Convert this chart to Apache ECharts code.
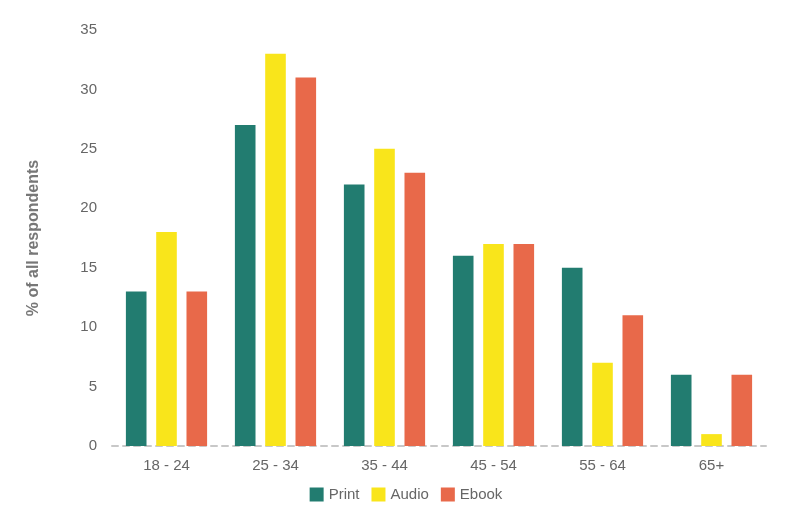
<!DOCTYPE html>
<html><head><meta charset="utf-8">
<script src="https://cdn.jsdelivr.net/npm/echarts@6/dist/echarts.min.js"></script>
<style>html,body{margin:0;padding:0;background:#fff}#c{width:812px;height:527px}</style>
</head><body><div id="c"></div>
<script>
const categories = ['18 - 24','25 - 34','35 - 44','45 - 54','55 - 64','65+'];
const printVals = [13, 27, 22, 16, 15, 6];
const audioVals = [18, 33, 25, 17, 7, 1];
const ebookVals = [13, 31, 23, 17, 11, 6];
const chart = echarts.init(document.getElementById('c'));
const font = 'Helvetica, Arial, "Liberation Sans", sans-serif';
chart.setOption({
  animation: false,
  textStyle: {fontFamily: font},
  color: ['#227C70', '#F9E51B', '#E8694A'],
  grid: {left: 112, right: 46, top: 30, bottom: 81},
  legend: {
    bottom: 20, left: 'center', itemWidth: 14, itemHeight: 14, itemGap: 12,
    icon: 'rect',
    textStyle: {color: '#666', fontSize: 15, fontFamily: font},
    data: ['Print', 'Audio', 'Ebook']
  },
  xAxis: {
    type: 'category', data: categories,
    axisLine: {lineStyle: {color: '#c8c8c8', type: [6, 5], width: 2}},
    axisTick: {show: false},
    axisLabel: {color: '#666', fontSize: 15, margin: 12, fontFamily: font}
  },
  yAxis: {
    type: 'value', min: 0, max: 35, interval: 5,
    name: '% of all respondents', nameLocation: 'middle', nameGap: 70,
    nameTextStyle: {color: '#777', fontSize: 16, fontWeight: 'bold', fontFamily: font},
    axisLine: {show: false}, axisTick: {show: false},
    splitLine: {show: false},
    axisLabel: {color: '#666', fontSize: 15, margin: 15, fontFamily: font}
  },
  series: [
    {name: 'Print', type: 'bar', data: printVals, barGap: '47%', barCategoryGap: '25.5%'},
    {name: 'Audio', type: 'bar', data: audioVals},
    {name: 'Ebook', type: 'bar', data: ebookVals}
  ]
});
</script></body></html>
